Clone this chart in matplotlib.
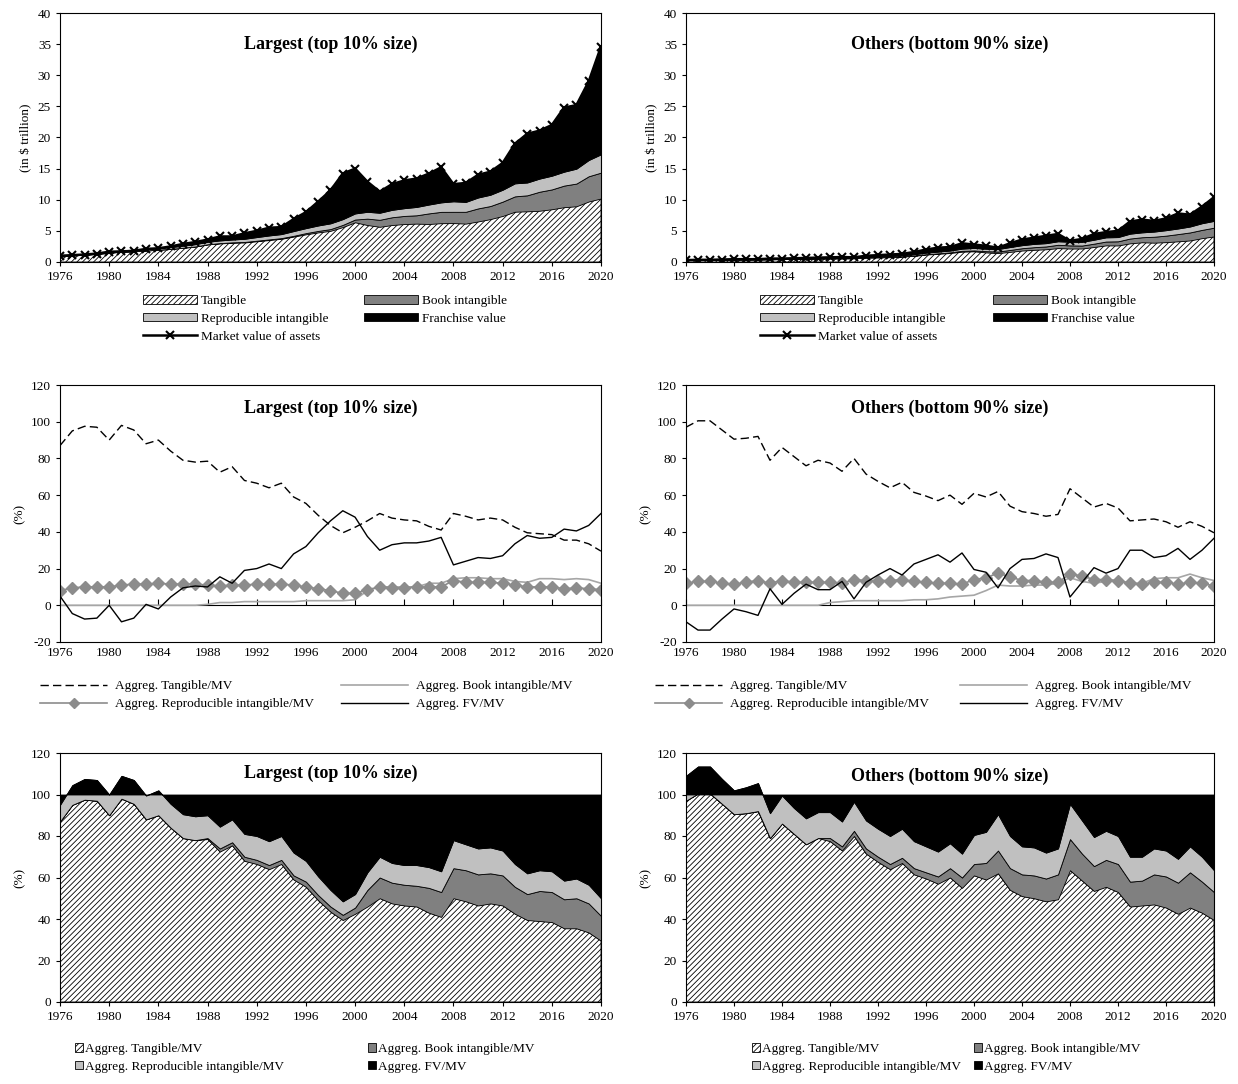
import numpy as np
import matplotlib
matplotlib.use("Agg")
import matplotlib.pyplot as plt
from matplotlib.patches import Patch
from matplotlib.lines import Line2D

plt.rcParams['font.family'] = ['Liberation Serif', 'DejaVu Serif']
plt.rcParams['hatch.linewidth'] = 0.6
plt.rcParams['axes.unicode_minus'] = False

years = np.arange(1976, 2021)
xticks = np.arange(1976, 2021, 4)

# Largest (top 10% size): aggregate ratios to market value of assets (%)
big_tang = [87, 95, 97.5, 97, 90, 98, 95.5, 88, 90, 84,
            79, 78, 78.5, 72.5, 75.5, 68, 66.5, 64, 66.5, 59,
            55.5, 49, 43.5, 39.5, 42.5, 46, 50, 47.5, 46.5, 46,
            43, 41, 50, 48.5, 46.5, 47.5, 46.5, 42.5, 39.5, 39,
            38.5, 35.5, 35.5, 33.5, 29.5]
big_book = [0, 0, 0, 0, 0, 0, 0, 0, 0, 0,
            0, 0, 0.5, 1.5, 1.5, 2, 2, 2, 2, 2,
            2.5, 2.5, 2.5, 2.5, 3, 8, 10, 10, 10, 10,
            12, 12, 14.5, 15, 15, 14.5, 14.5, 13, 12.5, 14.5,
            14.5, 14, 14.5, 14, 12]
big_repr = [8, 9.5, 10, 10, 10, 11, 11.5, 11.5, 12, 11.5,
            11.5, 11.5, 11, 10.5, 11, 11, 11.5, 11.5, 11.5, 11,
            10, 9, 8, 6.5, 6.5, 8.5, 10, 9.5, 9.5, 10,
            10, 10, 13.5, 12.5, 12.5, 12.5, 12, 11, 10, 10,
            10, 9, 9.5, 9, 8.5]
big_fv = [5, -4.5, -7.5, -7, 0, -9, -7, 0.5, -2, 4.5,
          9.5, 10.5, 10, 15.5, 12, 19, 20, 22.5, 20, 28,
          32, 39.5, 46, 51.5, 48, 37.5, 30, 33, 34, 34,
          35, 37, 22, 24, 26, 25.5, 27, 33.5, 38, 36.5,
          37, 41.5, 40.5, 43.5, 50]
# market value of assets, $ trillion
big_mv = [1.0, 1.1, 1.2, 1.35, 1.65, 1.7, 1.8, 2.1, 2.2, 2.5,
          2.9, 3.2, 3.6, 4.1, 4.1, 4.6, 5.0, 5.5, 5.6, 6.9,
          8.0, 9.7, 11.5, 14.2, 15.0, 12.9, 11.3, 12.5, 13.1, 13.4,
          14.2, 15.2, 12.5, 12.7, 14.0, 14.5, 15.9, 19.0, 20.6, 21.1,
          22.0, 24.8, 25.2, 29.0, 34.6]

# Others (bottom 90% size)
oth_tang = [97, 100.5, 100.5, 95.5, 90.5, 91, 92, 79, 86, 81,
            76, 79, 77.5, 73, 80, 71.5, 67.5, 64, 67, 61.5,
            59.5, 57, 60, 55, 61, 59, 62, 54, 51, 50,
            48.5, 49.5, 63.5, 58.5, 53.5, 55.5, 53, 46, 46.5, 47,
            45.5, 42.5, 45.5, 43, 39.5]
oth_book = [0, 0, 0, 0, 0, 0, 0, 0, 0, 0,
            0, 0, 1.5, 2, 2.5, 2.5, 2.5, 2.5, 2.5, 3,
            3, 3.5, 4.5, 5, 5.5, 8, 11, 10.5, 10.5, 11,
            11, 12, 15, 13, 12, 13, 13.5, 12, 12, 14.5,
            15, 15, 17, 15, 13.5]
oth_repr = [12, 13, 13, 12, 11.5, 12.5, 13.5, 12, 13.5, 12.5,
            12.5, 12.5, 12.5, 12, 14, 13.5, 13.5, 13.5, 14, 13,
            12.5, 12, 12, 11.5, 14, 15, 17.5, 15.5, 13.5, 13.5,
            12.5, 12.5, 17, 16, 14, 14, 13.5, 12, 11.5, 12.5,
            12.5, 11.5, 12.5, 12, 10.5]
oth_fv = [-9, -13.5, -13.5, -7.5, -2, -3.5, -5.5, 9, 0.5, 6.5,
          11.5, 8.5, 8.5, 13, 3.5, 12.5, 16.5, 20, 16.5, 22.5,
          25, 27.5, 23.5, 28.5, 19.5, 18, 9.5, 20, 25, 25.5,
          28, 26, 4.5, 12.5, 20.5, 17.5, 20, 30, 30, 26,
          27, 31, 25, 30, 36.5]
oth_mv = [0.3, 0.35, 0.35, 0.4, 0.45, 0.45, 0.45, 0.55, 0.55, 0.6,
          0.65, 0.7, 0.75, 0.8, 0.75, 1.0, 1.1, 1.2, 1.3, 1.6,
          2.0, 2.3, 2.4, 3.0, 2.8, 2.6, 2.3, 3.0, 3.6, 3.9,
          4.2, 4.5, 3.4, 3.7, 4.5, 4.8, 5.0, 6.5, 6.8, 6.6,
          7.0, 7.8, 7.6, 8.9, 10.4]

titles = ["Largest (top 10% size)", "Others (bottom 90% size)"]
groups = [(big_tang, big_book, big_repr, big_fv, big_mv),
          (oth_tang, oth_book, oth_repr, oth_fv, oth_mv)]

DARK = '#808080'
LIGHT = '#c0c0c0'
DIAM = '#8c8c8c'
BOOKLINE = '#a6a6a6'
HATCH = '//////'

fig = plt.figure(figsize=(12.38, 10.84), dpi=100)

lefts = [60 / 1238, 686 / 1238]
width_l = 541 / 1238
width_r = 528 / 1238
rows = [(13, 262), (385, 642), (753, 1002)]


def axes_at(col, row):
    top, bot = rows[row]
    w = width_l if col == 0 else width_r
    return fig.add_axes([lefts[col], 1 - bot / 1084, w, (bot - top) / 1084])


def style(ax):
    ax.set_xlim(1976, 2020)
    ax.set_xticks(xticks)
    ax.tick_params(labelsize=9.5, length=3, width=0.8)
    for s in ax.spines.values():
        s.set_linewidth(0.8)


def stack_fill(ax, vals, scale):
    t, b, r, fv = [np.array(v) * scale for v in vals]
    c1 = t
    c2 = c1 + b
    c3 = c2 + r
    c4 = c3 + fv
    ax.fill_between(years, 0, c1, facecolor='white', hatch=HATCH,
                    edgecolor='black', lw=0.6)
    ax.fill_between(years, c1, c2, facecolor=DARK, edgecolor='black', lw=0.6)
    ax.fill_between(years, c2, c3, facecolor=LIGHT, edgecolor='black', lw=0.6)
    ax.fill_between(years, c3, c4, facecolor='black', edgecolor='black', lw=0.6)


for col, (tang, book, repr_, fv, mv) in enumerate(groups):
    mv = np.array(mv)

    # top row: values in $ trillion
    ax = axes_at(col, 0)
    stack_fill(ax, (tang, book, repr_, fv), mv / 100)
    ax.plot(years, mv, color='black', lw=1.8, marker='x', ms=6, mew=1.5)
    ax.set_ylim(0, 40)
    ax.set_yticks(np.arange(0, 41, 5))
    ax.set_ylabel('(in $ trillion)', fontsize=9.5)
    ax.text(0.5, 0.875, titles[col], transform=ax.transAxes, ha='center',
            va='center', fontsize=13, fontweight='bold')
    style(ax)

    # middle row: ratios as lines
    ax = axes_at(col, 1)
    ax.plot(years, tang, color='black', lw=1, dashes=(6, 3))
    ax.plot(years, book, color=BOOKLINE, lw=1.2)
    ax.plot(years, repr_, color=DIAM, lw=1.2, marker='D', ms=6.5)
    ax.plot(years, fv, color='black', lw=1)
    ax.set_ylim(-20, 120)
    ax.set_yticks(np.arange(-20, 121, 20))
    ax.set_ylabel('(%)', fontsize=9.5)
    ax.text(0.5, 0.91, titles[col], transform=ax.transAxes, ha='center',
            va='center', fontsize=13, fontweight='bold')
    style(ax)
    ax.tick_params(axis='x', length=0)
    sec = ax.secondary_xaxis(20 / 140)
    sec.set_xticks(xticks)
    sec.tick_params(direction='in', length=4, width=0.8, labelbottom=False)
    sec.spines['bottom'].set_linewidth(0.8)

    # bottom row: ratios stacked
    ax = axes_at(col, 2)
    stack_fill(ax, (tang, book, repr_, fv), 1.0)
    ax.set_ylim(0, 120)
    ax.set_yticks(np.arange(0, 121, 20))
    ax.set_ylabel('(%)', fontsize=9.5)
    ax.text(0.5, 0.92 if col == 0 else 0.905, titles[col],
            transform=ax.transAxes, ha='center', va='center',
            fontsize=13, fontweight='bold')
    style(ax)

# legends
top_h = [Patch(facecolor='white', edgecolor='black', hatch=HATCH, lw=0.6),
         Patch(facecolor=LIGHT, edgecolor='black', lw=0.6),
         Line2D([], [], color='black', lw=1.8, marker='x', ms=6, mew=1.5),
         Patch(facecolor=DARK, edgecolor='black', lw=0.6),
         Patch(facecolor='black', edgecolor='black', lw=0.6)]
top_l = ['Tangible', 'Reproducible intangible', 'Market value of assets',
         'Book intangible', 'Franchise value']

mid_h = [Line2D([], [], color='black', lw=1, dashes=(6, 3)),
         Line2D([], [], color=DIAM, lw=1.2, marker='D', ms=5.5),
         Line2D([], [], color=BOOKLINE, lw=1.2),
         Line2D([], [], color='black', lw=1)]
mid_l = ['Aggreg. Tangible/MV', 'Aggreg. Reproducible intangible/MV',
         'Aggreg. Book intangible/MV', 'Aggreg. FV/MV']

bot_h = [Patch(facecolor='white', edgecolor='black', hatch=HATCH, lw=0.6),
         Patch(facecolor=LIGHT, edgecolor='black', lw=0.6),
         Patch(facecolor=DARK, edgecolor='black', lw=0.6),
         Patch(facecolor='black', edgecolor='black', lw=0.6)]

for x, cs in [(143, 2.7), (760, 3.6)]:
    fig.legend(top_h, top_l, loc='upper left',
               bbox_to_anchor=(x / 1238, 1 - 295 / 1084), ncol=2,
               frameon=False, fontsize=9.5, borderpad=0, borderaxespad=0,
               handlelength=4.1, handleheight=0.6, handletextpad=0.3,
               labelspacing=0.45, columnspacing=cs)

for x, cs in [(40, 2.0), (655, 2.3)]:
    fig.legend(mid_h, mid_l, loc='upper left',
               bbox_to_anchor=(x / 1238, 1 - 680 / 1084), ncol=2,
               frameon=False, fontsize=9.5, borderpad=0, borderaxespad=0,
               handlelength=5.1, handletextpad=0.6,
               labelspacing=0.45, columnspacing=cs)

for x, cs in [(75, 6.4), (752, 1.0)]:
    fig.legend(bot_h, mid_l, loc='upper left',
               bbox_to_anchor=(x / 1238, 1 - 1043 / 1084), ncol=2,
               frameon=False, fontsize=9.5, borderpad=0, borderaxespad=0,
               handlelength=0.6, handleheight=0.6, handletextpad=0.15,
               labelspacing=0.45, columnspacing=cs)

fig.savefig('out.png', dpi=100)
